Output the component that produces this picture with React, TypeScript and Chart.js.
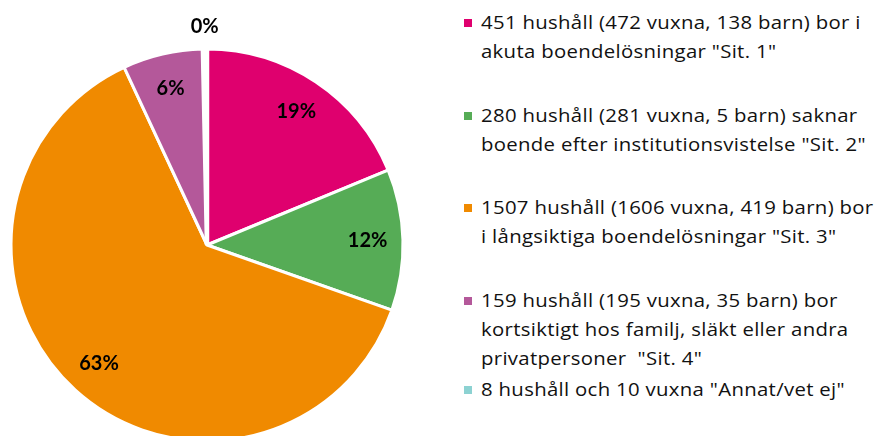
import React, { useEffect, useRef } from "react";
import { Chart, registerables } from "chart.js";

Chart.register(...registerables);

const categories = [
  "451 hushåll (472 vuxna, 138 barn) bor i\nakuta boendelösningar \"Sit. 1\"",
  "280 hushåll (281 vuxna, 5 barn) saknar\nboende efter institutionsvistelse \"Sit. 2\"",
  "1507 hushåll (1606 vuxna, 419 barn) bor\ni långsiktiga boendelösningar \"Sit. 3\"",
  "159 hushåll (195 vuxna, 35 barn) bor\nkortsiktigt hos familj, släkt eller andra\nprivatpersoner  \"Sit. 4\"",
  "8 hushåll och 10 vuxna \"Annat/vet ej\"",
];
const households = [451, 280, 1507, 159, 8];
const percentLabels = ["19%", "12%", "63%", "6%", "0%"];
const colors = ["#DF006E", "#56AC56", "#F08A00", "#B4589A", "#8CD2D2"];

// legend layout (top of each entry, px)
const legendTops = [8, 101, 193, 286, 375];

const labelPlugin = {
  id: "sliceLabels",
  afterDatasetsDraw(chart: any) {
    const ctx = chart.ctx;
    const meta = chart.getDatasetMeta(0);
    const total = households.reduce((a, b) => a + b, 0);
    ctx.save();
    ctx.font = "bold 20px Lato";
    ctx.fillStyle = "#000";
    ctx.textAlign = "center";
    ctx.textBaseline = "middle";
    meta.data.forEach((arc: any, i: number) => {
      const p = arc.getProps(["x", "y", "startAngle", "endAngle", "outerRadius"], true);
      const mid = (p.startAngle + p.endAngle) / 2;
      const share = households[i] / total;
      const r = share < 0.01 ? p.outerRadius + 22 : p.outerRadius * 0.82;
      ctx.fillText(percentLabels[i], p.x + Math.cos(mid) * r, p.y + Math.sin(mid) * r);
    });
    ctx.restore();
  },
};

export default function App() {
  const ref = useRef<HTMLCanvasElement>(null);
  useEffect(() => {
    if (!ref.current) return;
    const chart = new Chart(ref.current, {
      type: "pie",
      data: {
        labels: categories,
        datasets: [
          {
            data: households,
            backgroundColor: colors,
            borderColor: "#fff",
            borderWidth: [3, 3, 3, 3, 4.5],
          },
        ],
      },
      options: {
        animation: false,
        responsive: false,
        radius: 196,
        layout: { padding: 0 },
        plugins: { legend: { display: false }, tooltip: { enabled: false } },
      } as any,
      plugins: [labelPlugin],
    });
    return () => chart.destroy();
  }, []);

  return (
    <div
      style={{
        position: "fixed",
        left: 0,
        top: 0,
        width: 874,
        height: 436,
        overflow: "hidden",
        background: "#fff",
        fontFamily: "'Open Sans', sans-serif",
      }}
    >
      <canvas ref={ref} width={414} height={490} style={{ position: "absolute", left: 0, top: 0 }} />
      {categories.map((c, i) => (
        <div
          key={i}
          style={{ position: "absolute", left: 464, top: legendTops[i], display: "flex", alignItems: "flex-start" }}
        >
          <div style={{ width: 8, height: 8, background: colors[i], marginTop: 11, marginRight: 9, flex: "none" }} />
          <div
            style={{
              whiteSpace: "pre",
              fontSize: 19,
              lineHeight: "29px",
              letterSpacing: 0.3,
              color: "#111",
              transform: "scaleX(1.07)",
              transformOrigin: "left top",
            }}
          >
            {c}
          </div>
        </div>
      ))}
    </div>
  );
}
